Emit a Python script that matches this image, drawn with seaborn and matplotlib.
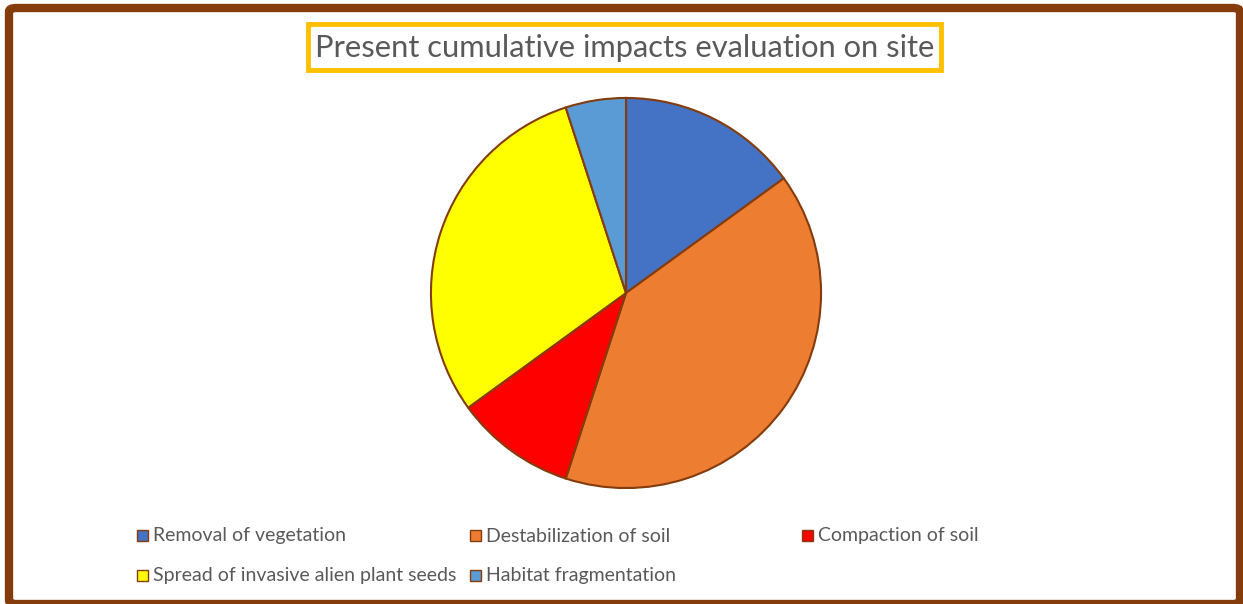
import matplotlib
matplotlib.use("Agg")
import matplotlib.pyplot as plt
from matplotlib.patches import Rectangle, FancyBboxPatch
import seaborn as sns

categories = [
    "Removal of vegetation",
    "Destabilization of soil",
    "Compaction of soil",
    "Spread of invasive alien plant seeds",
    "Habitat fragmentation",
]
shares = [15, 40, 10, 30, 5]
colors = ["#4472C4", "#ED7D31", "#FF0000", "#FFFF00", "#5B9BD5"]
title = "Present cumulative impacts evaluation on site"

sns.set_theme(style="white")
plt.rcParams["font.family"] = ["Lato", "DejaVu Sans"]

W, H = 1243, 604
fig = plt.figure(figsize=(W / 100, H / 100), dpi=100)
fig.patch.set_facecolor("white")

def fx(px):
    return px / W

def fy(py):
    return 1 - py / H

# outer frame
frame = FancyBboxPatch((fx(9), fy(604)), fx(1240 - 9), (604 - 8) / H,
                       boxstyle="round,pad=0,rounding_size=0.006",
                       transform=fig.transFigure, fill=False,
                       edgecolor="#843C0C", linewidth=6, zorder=10)
fig.add_artist(frame)

# pie
cx, cy, r = 626, 293, 197
ax = fig.add_axes([fx(cx - r), fy(cy + r), 2 * r / W, 2 * r / H])
ax.pie(shares, colors=sns.color_palette(colors), startangle=90, counterclock=False,
       radius=1, wedgeprops=dict(edgecolor="#843C0C", linewidth=1.5))
ax.set_xlim(-1.01, 1.01)
ax.set_ylim(-1.01, 1.01)
ax.set_aspect("equal")
ax.axis("off")

# title in a framed box
fig.add_artist(Rectangle((fx(308), fy(70)), (941 - 308) / W, (70 - 24) / H,
                         transform=fig.transFigure, facecolor="white",
                         edgecolor="#FFC000", linewidth=3.5))
fig.text(fx(625), fy(48.5), title, ha="center", va="center", fontsize=22.2,
         color="#595959")

# legend
legend_x = [137, 470, 802]
legend_y = [535, 575]
for i, (name, col) in enumerate(zip(categories, colors)):
    row, c = divmod(i, 3)
    x0, y0 = legend_x[c], legend_y[row]
    fig.add_artist(Rectangle((fx(x0), fy(y0 + 5.5)), 11 / W, 11 / H,
                             transform=fig.transFigure, facecolor=col,
                             edgecolor="#843C0C", linewidth=1))
    fig.text(fx(x0 + 16), fy(y0 + 1), name, ha="left", va="center",
             fontsize=14, color="#595959")

fig.savefig("out.png", dpi=100)
